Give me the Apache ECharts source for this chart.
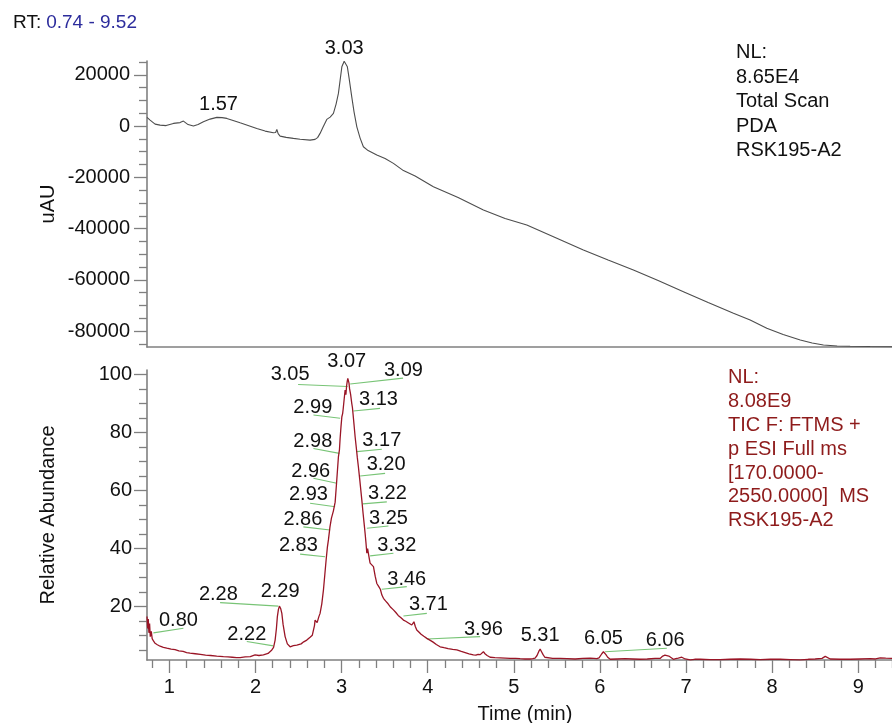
<!DOCTYPE html>
<html><head><meta charset="utf-8">
<script src="https://cdn.jsdelivr.net/npm/echarts@6/dist/echarts.min.js"></script>
<style>html,body{margin:0;padding:0;background:#fff}#c{width:892px;height:723px}</style>
</head><body><div id="c"></div>
<script>
// ---------------- data ----------------
const rtStart = 0.74, rtEnd = 9.52;

// PDA total scan (time min, uAU)
const pdaTime = [0.74,0.776,0.834,0.892,0.962,1.047,1.124,1.163,1.217,1.279,1.333,1.395,1.473,1.551,1.612,1.667,1.74,1.821,1.914,2.015,2.112,2.208,2.234,2.248,2.263,2.286,2.356,2.44,2.518,2.634,2.692,2.721,2.75,2.785,2.828,2.867,2.905,2.936,2.963,2.983,3.003,3.03,3.047,3.067,3.087,3.118,3.145,3.177,3.215,3.253,3.308,3.409,3.505,3.602,3.718,3.854,4.066,4.353,4.647,4.899,5.151,5.48,5.808,6.095,6.389,6.676,6.97,7.257,7.551,7.745,7.938,8.128,8.327,8.465,8.596,8.755,8.906,9.138,9.52];
const pdaUAU = [3400,2340,780,390,200,1050,1370,1950,590,0,590,1680,2730,3390,3300,3000,2220,1290,270,-900,-1950,-2610,-2500,-1290,-2930,-3900,-4400,-4800,-5150,-5460,-5190,-4490,-2850,-390,2610,3510,4950,8580,12750,17940,23130,25300,24760,23130,18720,11430,5460,-270,-4680,-8070,-9560,-11310,-12680,-14550,-17360,-19500,-23670,-27890,-32760,-36080,-38610,-43490,-48360,-52260,-56160,-60260,-64620,-68840,-73050,-75660,-78900,-81320,-83460,-84630,-85410,-85800,-85920,-86030,-86100];
const pdaPeakNames = ['1.57','3.03'];
const pdaPeakTime = [1.57, 3.03];
const pdaPeakValue = [3390, 25300];

// TIC (time min, relative abundance %)
const ticTrace = [
[0.74,16.6],[0.748,12.5],[0.755,15.8],[0.762,11.0],[0.770,14.2],[0.778,9.7],[0.79,11.5],[0.80,9.0],[0.815,8.2],[0.834,7.4],
[0.86,6.9],[0.892,6.4],[0.93,6.0],[0.97,5.7],[1.02,5.4],[1.066,5.2],[1.11,4.8],[1.16,4.6],[1.2,4.2],[1.24,4.0],
[1.3,3.8],[1.36,3.6],[1.42,3.3],[1.48,3.2],[1.55,3.0],[1.627,2.8],[1.68,2.7],[1.73,2.6],[1.78,2.5],[1.821,2.5],
[1.88,2.7],[1.94,2.8],[1.995,3.4],[2.04,3.2],[2.092,3.4],[2.146,3.9],[2.19,5.1],[2.21,6.0],[2.228,8.5],[2.243,12.5],
[2.254,16.6],[2.266,19.0],[2.278,20.2],[2.292,19.4],[2.306,17.7],[2.32,14.0],[2.344,9.7],[2.37,7.2],[2.402,6.2],[2.44,6.6],
[2.48,6.8],[2.53,7.2],[2.56,7.9],[2.596,8.5],[2.634,9.5],[2.66,10.2],[2.673,10.8],[2.685,13.5],[2.692,15.4],[2.705,14.8],
[2.716,14.5],[2.735,16.5],[2.75,17.7],[2.77,21.0],[2.789,25.7],[2.805,31.0],[2.82,36.0],[2.835,40.5],[2.847,43.0],[2.865,47.5],
[2.882,50.5],[2.905,53.0],[2.925,56.0],[2.94,62.0],[2.952,67.0],[2.963,71.6],[2.975,74.0],[2.983,78.0],[2.993,82.0],[3.003,85.4],
[3.012,86.5],[3.018,88.0],[3.03,91.5],[3.041,94.6],[3.05,93.0],[3.058,96.0],[3.065,97.5],[3.072,98.6],[3.079,99.2],[3.086,97.0],
[3.093,95.0],[3.105,93.0],[3.118,90.0],[3.126,88.5],[3.134,86.0],[3.145,82.5],[3.157,78.5],[3.17,75.0],[3.182,71.5],[3.195,68.2],
[3.21,64.0],[3.222,60.5],[3.235,56.7],[3.25,52.0],[3.262,48.5],[3.273,45.3],[3.283,42.0],[3.293,38.4],[3.302,40.0],[3.312,39.5],
[3.322,36.5],[3.331,35.0],[3.35,34.5],[3.37,33.8],[3.39,30.5],[3.409,28.0],[3.43,27.0],[3.45,26.0],[3.468,24.0],[3.486,22.9],
[3.51,22.0],[3.54,21.0],[3.57,19.8],[3.602,18.9],[3.63,18.0],[3.657,17.0],[3.69,16.2],[3.718,15.4],[3.745,15.0],[3.772,14.5],
[3.795,14.0],[3.815,13.7],[3.828,14.3],[3.84,14.8],[3.856,13.2],[3.873,12.0],[3.9,11.2],[3.923,10.5],[3.955,9.8],[3.99,9.1],
[4.03,8.4],[4.063,7.8],[4.1,7.0],[4.144,6.2],[4.19,5.9],[4.237,5.6],[4.29,5.3],[4.338,5.1],[4.39,4.6],[4.435,4.2],
[4.48,3.8],[4.53,3.4],[4.56,3.3],[4.585,3.6],[4.61,3.5],[4.632,4.0],[4.647,4.5],[4.665,3.8],[4.69,3.2],[4.725,2.6],
[4.78,2.5],[4.84,2.4],[4.9,2.3],[4.957,2.2],[5.02,2.2],[5.073,2.1],[5.13,2.0],[5.189,2.0],[5.22,2.1],[5.247,2.3],
[5.27,3.2],[5.29,4.6],[5.306,5.4],[5.322,4.5],[5.34,3.5],[5.36,2.6],[5.383,2.1],[5.45,2.2],[5.538,2.2],[5.62,2.1],
[5.712,2.0],[5.8,2.2],[5.886,2.3],[5.93,2.2],[5.964,2.1],[5.99,2.4],[6.003,2.8],[6.022,3.8],[6.041,4.5],[6.055,4.1],
[6.07,3.5],[6.09,2.6],[6.12,1.9],[6.2,2.0],[6.293,2.1],[6.38,2.0],[6.467,1.9],[6.55,2.0],[6.641,2.2],[6.699,2.2],
[6.73,3.0],[6.755,3.3],[6.777,3.4],[6.8,3.0],[6.82,2.4],[6.854,1.9],[6.88,2.1],[6.91,2.3],[6.951,2.6],[6.97,2.4],
[6.99,2.0],[7.049,1.7],[7.1,1.9],[7.165,1.9],[7.28,1.8],[7.397,1.8],[7.51,1.9],[7.63,2.0],[7.75,1.9],[7.862,1.8],
[7.98,1.9],[8.094,1.9],[8.21,1.8],[8.327,1.7],[8.42,1.9],[8.5,2.0],[8.58,2.2],[8.617,2.9],[8.64,2.3],[8.675,2.0],
[8.79,1.9],[8.907,1.9],[9.02,2.0],[9.14,2.1],[9.2,2.0],[9.256,2.4],[9.32,2.3],[9.39,2.2],[9.45,2.1],[9.52,2.0]
];

// TIC peak annotations: text, anchor (time, %) of label
const msPeakNames = ['3.07','3.05','3.09','2.99','3.13','2.98','3.17','2.96','3.20','2.93','3.22','2.86','3.25','2.83','3.32','3.46','3.71','3.96','2.28','2.29','0.80','2.22','5.31','6.05','6.06'];
const msLabelAt = [[3.06,104.3],[2.402,99.8],[3.718,101.3],[2.666,88.6],[3.428,91.2],[2.666,76.8],[3.467,77.1],[2.642,66.5],[3.517,68.8],[2.615,58.5],[3.532,59.0],[2.55,50.1],[3.544,50.4],[2.498,41.2],[3.641,41.2],[3.757,29.4],[4.008,20.6],[4.647,12.0],[1.569,24.3],[2.286,25.2],[1.105,15.1],[1.899,10.3],[5.306,10.0],[6.041,9.1],[6.757,8.3]];
// leader lines (time, %) -> (time, %)
const msLeaders = [
 [[2.495,96.5],[3.07,95.8]], [[3.099,96.7],[3.714,98.7]],
 [[2.673,86.0],[2.983,84.9]], [[3.137,87.4],[3.447,88.3]],
 [[2.673,74.5],[2.975,72.8]], [[3.177,73.4],[3.467,74.2]],
 [[2.673,64.2],[2.944,62.5]], [[3.215,65.0],[3.505,65.9]],
 [[2.634,55.6],[2.925,54.4]], [[3.246,55.4],[3.525,56.1]],
 [[2.556,47.5],[2.867,46.4]], [[3.293,47.0],[3.544,47.8]],
 [[2.518,38.1],[2.808,37.2]], [[3.331,37.5],[3.602,38.4]],
 [[3.467,26.0],[3.757,26.9]], [[3.718,16.8],[3.99,17.7]],
 [[3.99,8.9],[4.609,9.7]], [[1.589,21.4],[2.266,20.2]],
 [[0.814,11.0],[1.163,12.6]], [[1.899,8.0],[2.208,6.5]],
 [[6.06,4.5],[6.777,5.7]]
];

// axis ticks
const timeMajor = [1,2,3,4,5,6,7,8,9];
const timeMinor = [0.8,1.2,1.4,1.6,1.8,2.2,2.4,2.6,2.8,3.2,3.4,3.6,3.8,4.2,4.4,4.6,4.8,5.2,5.4,5.6,5.8,6.2,6.4,6.6,6.8,7.2,7.4,7.6,7.8,8.2,8.4,8.6,8.8,9.2,9.4];
const uauMajor = [-80000,-60000,-40000,-20000,0,20000];
const uauMinor = [-85000,-75000,-70000,-65000,-55000,-50000,-45000,-35000,-30000,-25000,-15000,-10000,-5000,5000,10000,15000,25000];
const relMajor = [20,40,60,80,100];
const relMinor = [5,10,15,25,30,35,45,50,55,65,70,75,85,90,95];

const pdaRange = [-86200, 25400];
const relRange = [1.65, 101.5];

const pdaInfo = ['NL:','8.65E4','Total Scan','PDA','RSK195-A2'];
const ticInfo = ['NL:','8.08E9','TIC F: FTMS +','p ESI Full ms','[170.0000-','2550.0000]  MS','RSK195-A2'];

// ---------------- chart ----------------
const FONT = '"Liberation Sans", Arial, Helvetica, sans-serif';
const AX = '#808080';
const TXT = '#111111';
const chart = echarts.init(document.getElementById('c'), null, {renderer: 'canvas'});
const plain = v => String(v);

function majorAxis(extra) {
  return Object.assign({
    type: 'value', position: extra.position, splitLine: {show: false},
    nameMoveOverlap: false,
    axisLine: {show: true, onZero: false, lineStyle: {color: AX, width: 1.6}},
    axisTick: {show: true, length: 13, lineStyle: {color: AX, width: 1.3}},
    axisLabel: {show: true, color: TXT, fontSize: 20, fontFamily: FONT}
  }, extra);
}
function minorAxis(extra) {
  return Object.assign({
    type: 'value', splitLine: {show: false},
    axisLine: {show: false, onZero: false},
    axisLabel: {show: false},
    axisTick: {show: true, length: 8, lineStyle: {color: AX, width: 1.3}}
  }, extra);
}
const lbl = {color: TXT, fontSize: 20, fontFamily: FONT, fontWeight: 'normal', opacity: 1, textBorderWidth: 0};

const option = {
  animation: false,
  backgroundColor: '#fff',
  textStyle: {fontFamily: FONT},
  title: {
    left: 13, top: 13, padding: 0,
    text: '{a|RT:} {b|' + rtStart.toFixed(2) + ' - ' + rtEnd.toFixed(2) + '}',
    textStyle: {fontWeight: 'normal', rich: {
      a: {fontSize: 19, color: TXT, fontFamily: FONT, fontWeight: 'normal'},
      b: {fontSize: 19, color: '#2c2c9c', fontFamily: FONT, fontWeight: 'normal'}
    }}
  },
  grid: [
    {left: 147, right: -11, top: 61, height: 286, outerBoundsMode: 'none'},
    {left: 147, right: -11, top: 370, height: 290, outerBoundsMode: 'none'}
  ],
  xAxis: [
    {type: 'value', gridIndex: 0, position: 'bottom', min: rtStart, max: rtEnd, splitLine: {show: false},
     axisLine: {show: true, onZero: false, lineStyle: {color: AX, width: 1.6}},
     axisTick: {show: false}, axisLabel: {show: false}},
    majorAxis({gridIndex: 1, position: 'bottom', min: rtStart, max: rtEnd,
      axisTick: {show: true, length: 13, customValues: timeMajor, lineStyle: {color: AX, width: 1.3}},
      axisLabel: {show: true, customValues: timeMajor, formatter: plain, margin: 17, color: TXT, fontSize: 20, fontFamily: FONT},
      name: 'Time (min)', nameLocation: 'middle', nameGap: 44,
      nameTextStyle: {fontSize: 20, color: TXT, fontFamily: FONT}}),
    minorAxis({gridIndex: 1, position: 'bottom', min: rtStart, max: rtEnd,
      axisTick: {show: true, length: 8, customValues: timeMinor, lineStyle: {color: AX, width: 1.3}}})
  ],
  yAxis: [
    majorAxis({gridIndex: 0, position: 'left', min: pdaRange[0], max: pdaRange[1],
      axisTick: {show: true, length: 13, customValues: uauMajor, lineStyle: {color: AX, width: 1.3}},
      axisLabel: {show: true, customValues: uauMajor, formatter: plain, margin: 17, color: TXT, fontSize: 20, fontFamily: FONT},
      name: 'uAU', nameLocation: 'middle', nameGap: 89,
      nameTextStyle: {fontSize: 20, color: TXT, fontFamily: FONT}}),
    minorAxis({gridIndex: 0, position: 'left', min: pdaRange[0], max: pdaRange[1],
      axisTick: {show: true, length: 8, customValues: uauMinor, lineStyle: {color: AX, width: 1.3}}}),
    majorAxis({gridIndex: 1, position: 'left', min: relRange[0], max: relRange[1],
      axisTick: {show: true, length: 13, customValues: relMajor, lineStyle: {color: AX, width: 1.3}},
      axisLabel: {show: true, customValues: relMajor, formatter: plain, margin: 15, color: TXT, fontSize: 20, fontFamily: FONT},
      name: 'Relative Abundance', nameLocation: 'middle', nameGap: 89,
      nameTextStyle: {fontSize: 20, color: TXT, fontFamily: FONT}}),
    minorAxis({gridIndex: 1, position: 'left', min: relRange[0], max: relRange[1],
      axisTick: {show: true, length: 8, customValues: relMinor, lineStyle: {color: AX, width: 1.3}}})
  ],
  series: [
    {type: 'line', xAxisIndex: 0, yAxisIndex: 0, showSymbol: false, symbol: 'none',
     data: pdaTime.map((t, i) => [t, pdaUAU[i]]),
     lineStyle: {color: '#4d4d4d', width: 1.1}, z: 3},
    {type: 'scatter', xAxisIndex: 0, yAxisIndex: 0, symbolSize: 0, clip: false, silent: true,
     itemStyle: {opacity: 1},
     data: pdaPeakNames.map((n, i) => ({name: n, value: [pdaPeakTime[i], pdaPeakValue[i]]})),
     label: Object.assign({show: true, position: 'top', distance: 3, formatter: '{b}'}, lbl)},
    {type: 'lines', coordinateSystem: 'cartesian2d', xAxisIndex: 1, yAxisIndex: 2, silent: true,
     data: msLeaders.map(c => ({coords: c})),
     lineStyle: {color: '#78c476', width: 1.1, opacity: 1}, z: 2},
    {type: 'line', xAxisIndex: 1, yAxisIndex: 2, showSymbol: false, symbol: 'none',
     data: ticTrace,
     lineStyle: {color: '#9a1526', width: 1.3}, z: 3},
    {type: 'scatter', xAxisIndex: 1, yAxisIndex: 2, symbolSize: 0, clip: false, silent: true,
     itemStyle: {opacity: 1},
     data: msPeakNames.map((n, i) => ({name: n, value: msLabelAt[i]})),
     label: Object.assign({show: true, position: 'inside', formatter: '{b}'}, lbl), z: 4}
  ],
  graphic: [
    {type: 'text', left: 736, top: 40.5, style: {text: pdaInfo.join('\n'), fontSize: 20, lineHeight: 24.5, fill: TXT, fontFamily: FONT}},
    {type: 'text', left: 728, top: 366, style: {text: ticInfo.join('\n'), fontSize: 20, lineHeight: 23.8, fill: '#8e1b1b', fontFamily: FONT}}
  ]
};
chart.setOption(option);
</script>
</body></html>
